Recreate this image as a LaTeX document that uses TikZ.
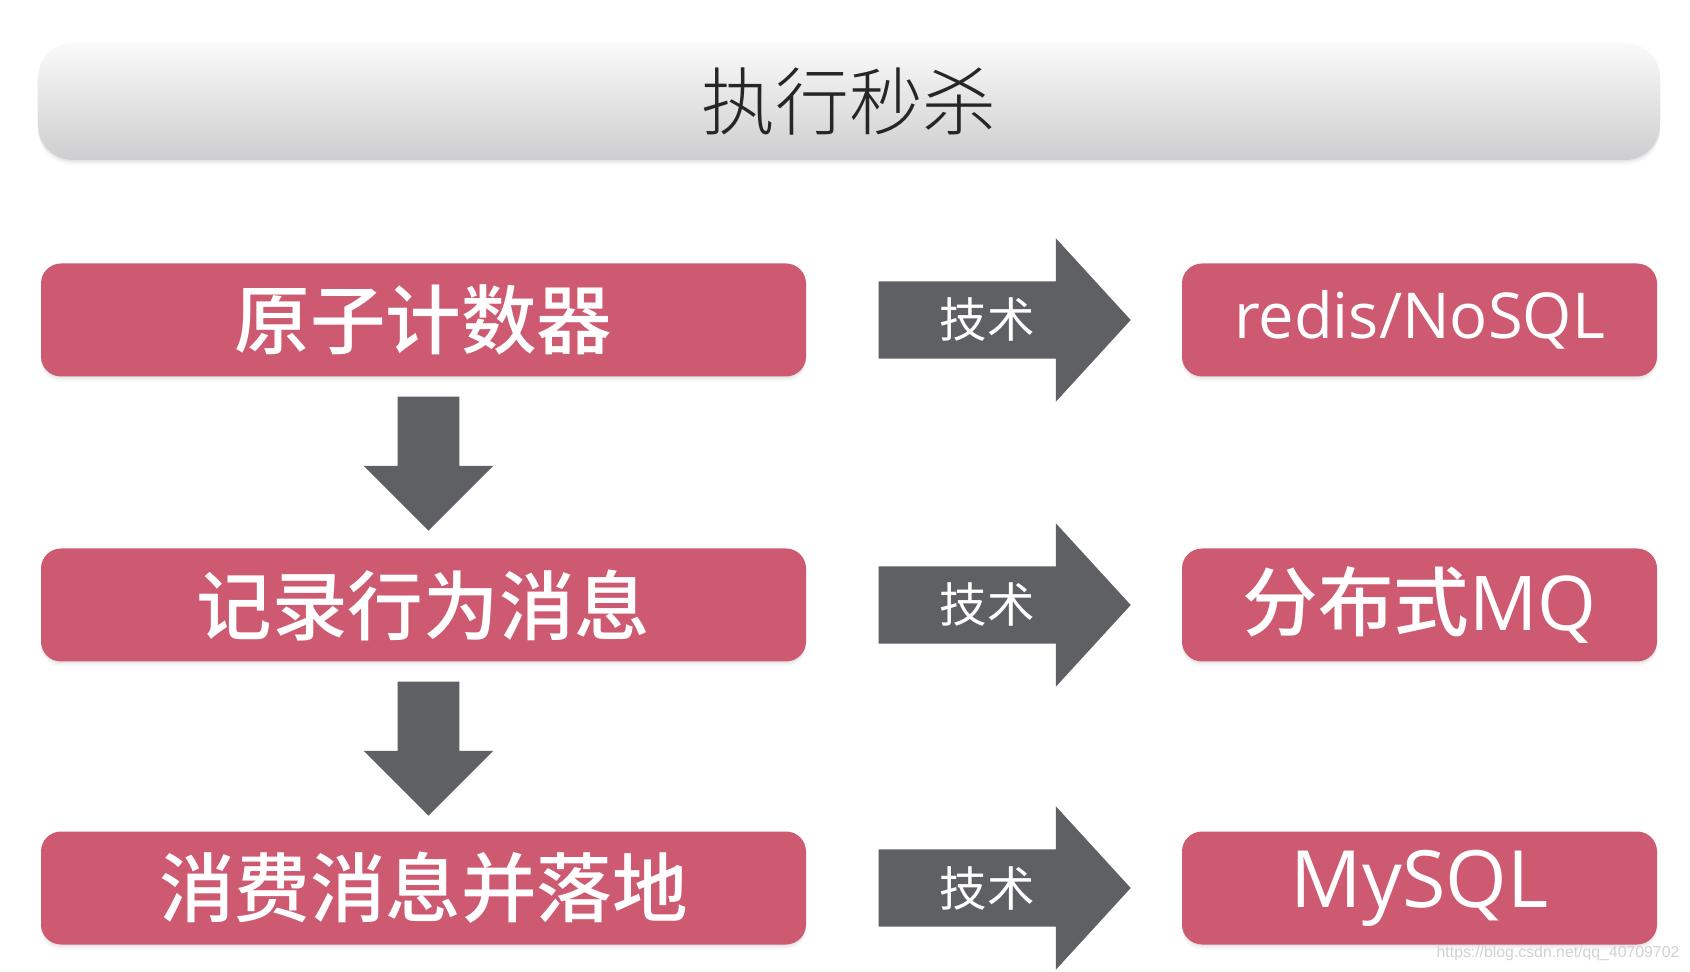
\documentclass[tikz,border=0pt]{standalone}
\usepackage{fontspec}
\newfontfamily\cjk{Noto Sans CJK SC}
\newfontfamily\cjklight{Noto Sans CJK SC Light}
\newfontfamily\cjkmedium{Noto Sans CJK SC Medium}
\newfontfamily\latinsans{Open Sans}
\newfontfamily\markfont{Liberation Sans}
\definecolor{skred}{RGB}{205,90,113}
\definecolor{skgray}{RGB}{95,96,100}
\definecolor{sktop}{RGB}{250,250,250}
\definecolor{skbottom}{RGB}{206,206,208}
\usetikzlibrary{shapes.arrows,shadows,calc}

\begin{document}
\begin{tikzpicture}[
  softshadow/.style={
    drop shadow={shadow xshift=0pt,shadow yshift=-0.03cm,opacity=0.08},
    drop shadow={shadow xshift=0pt,shadow yshift=-0.06cm,opacity=0.07},
    drop shadow={shadow xshift=0pt,shadow yshift=-0.1cm,opacity=0.05}},
  titlebar/.style={rounded corners=0.7cm,minimum width=32.44cm,minimum height=2.34cm,
    top color=sktop,bottom color=skbottom,text=black!85,
    font=\cjklight\fontsize{42}{42}\selectfont,softshadow},
  stepbox/.style={rounded corners=0.4cm,fill=skred,text=white,minimum height=2.26cm,
    softshadow},
  leftbox/.style={stepbox,minimum width=15.3cm,font=\cjkmedium\fontsize{43}{43}\selectfont},
  techbox/.style={stepbox,minimum width=9.5cm},
  techarr/.style={single arrow,fill=skgray,text=white,
    font=\cjk\fontsize{27}{27}\selectfont,
    minimum height=5.04cm,single arrow head extend=0.86cm,single arrow tip angle=95,
    inner xsep=0.41cm,inner ysep=0pt,text height=1.125cm,text depth=0.405cm},
  downarr/.style={single arrow,fill=skgray,rotate=-90,minimum height=2.68cm,
    inner sep=0.61cm,single arrow head extend=0.68cm,single arrow tip angle=90}
]
  \useasboundingbox[fill=white] (0,0) rectangle (33.8,-19.44);

  % Title
  \node[titlebar] (title) at (16.98,-2.03) {执行秒杀};

  % Steps
  \node[leftbox] (counter) at (8.47,-6.4) {原子计数器};
  \node[leftbox] (record) at (8.47,-12.1) {记录行为消息};
  \node[leftbox] (consume) at (8.47,-17.76) {消费消息并落地};

  % Techniques
  \node[techbox,font=\latinsans\fontsize{36}{36}\selectfont] (redis) at (28.39,-6.4) {redis/NoSQL};
  \node[techbox,font=\fontsize{43}{43}\selectfont] (mq) at (28.39,-12.1) {\cjkmedium 分布式\latinsans MQ};
  \node[techbox,font=\latinsans\fontsize{45}{45}\selectfont] (mysql) at (28.39,-17.76) {MySQL};

  % Arrows between steps
  \node[downarr,anchor=tail] (down1) at ($(counter.south)+(0.1,-0.39)$) {};
  \node[downarr,anchor=tail] (down2) at ($(record.south)+(0.1,-0.39)$) {};

  % Arrows to techniques
  \node[techarr,anchor=tail] (tech1) at ($(counter.east)+(1.44,0)$) {技术};
  \node[techarr,anchor=tail] (tech2) at ($(record.east)+(1.44,0)$) {技术};
  \node[techarr,anchor=tail] (tech3) at ($(consume.east)+(1.44,0)$) {技术};

  % Watermark
  \node[font=\markfont\fontsize{9}{9}\selectfont,text=gray!35] (mark) at (31.16,-19.06)
    {https://blog.csdn.net/qq\_40709702};
\end{tikzpicture}
\end{document}
